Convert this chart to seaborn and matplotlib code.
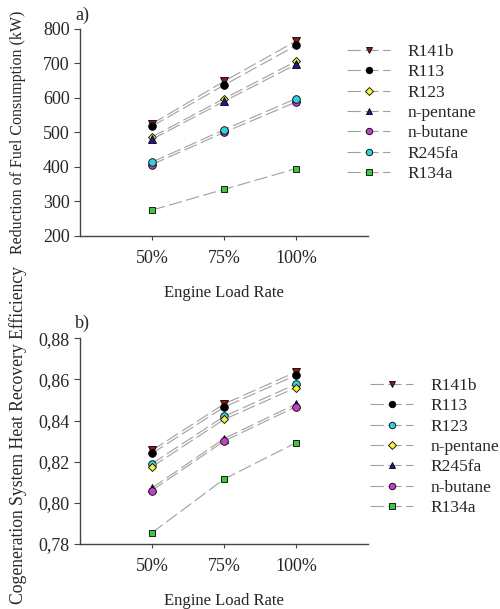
import pandas as pd
import matplotlib
matplotlib.use("Agg")
import matplotlib.pyplot as plt
import seaborn as sns

# datos
loads = ["50%", "75%", "100%"]

names_a = ["R141b", "R113", "R123", "n-pentane", "n-butane", "R245fa", "R134a"]
fuel_reduction = {
    "R141b":     [525, 648, 765],
    "R113":      [518, 637, 752],
    "R123":      [487, 598, 706],
    "n-pentane": [480, 590, 697],
    "n-butane":  [407, 500, 588],
    "R245fa":    [414, 508, 598],
    "R134a":     [275, 335, 395],
}

names_b = ["R141b", "R113", "R123", "n-pentane", "R245fa", "n-butane", "R134a"]
heat_recovery = {
    "R141b":     [0.8255, 0.8480, 0.8636],
    "R113":      [0.8240, 0.8465, 0.8620],
    "R123":      [0.8190, 0.8420, 0.8577],
    "n-pentane": [0.8175, 0.8405, 0.8560],
    "R245fa":    [0.8072, 0.8312, 0.8480],
    "n-butane":  [0.8060, 0.8300, 0.8467],
    "R134a":     [0.7855, 0.8115, 0.8292],
}

# estilos de marcador por panel
markers_a = ["v", "o", "D", "^", "o", "o", "s"]
colors_a = ["#8b1a1a", "#000000", "#f5f53c", "#1c1c8c", "#c040c8", "#30d0dc", "#3cc83c"]
markers_b = ["v", "o", "o", "D", "^", "o", "s"]
colors_b = ["#8b1a1a", "#000000", "#30d0dc", "#f5f53c", "#1c1c8c", "#c040c8", "#3cc83c"]

sns.set_style("ticks")
plt.rcParams['font.family'] = ['Liberation Serif', 'DejaVu Serif']

fig = plt.figure(figsize=(5.0, 6.09), dpi=100)
ax1 = fig.add_axes([0.16, 0.6125, 0.576, 0.340])
ax2 = fig.add_axes([0.16, 0.1067, 0.576, 0.338])


def draw_panel(ax, names, data, colors, markers):
    for i, name in enumerate(names):
        df = pd.DataFrame({"load": loads, "value": data[name]})
        ms = 4.5 if markers[i] in ("D", "s") else 5.5
        sns.lineplot(
            data=df, x="load", y="value", ax=ax,
            color="#a0a0a0", linewidth=0.8, dashes=False,
            linestyle=(0, (12, 4)),
            marker=markers[i], markersize=ms,
            markerfacecolor=colors[i], markeredgecolor="black",
            markeredgewidth=0.6, label=name, sort=False,
        )
    ax.set_xlim(-1, 3)
    ax.set_xlabel("Engine Load Rate", fontsize=12, labelpad=13)
    for side in ["left", "bottom"]:
        ax.spines[side].set_color("#444444")
        ax.spines[side].set_linewidth(1.0)
    sns.despine(ax=ax)
    ax.tick_params(axis="both", labelsize=13, color="#444444", length=4, width=0.8)
    ax.tick_params(axis="x", length=3, pad=7)
    if ax.get_legend() is not None:
        ax.get_legend().remove()


draw_panel(ax1, names_a, fuel_reduction, colors_a, markers_a)
ax1.set_ylim(200, 800)
ax1.set_yticks([200, 300, 400, 500, 600, 700, 800])
ax1.set_ylabel("Reduction of Fuel Consumption (kW)", fontsize=11.5, labelpad=12)

draw_panel(ax2, names_b, heat_recovery, colors_b, markers_b)
ax2.set_ylim(0.78, 0.88)
ticks_b = [0.78, 0.80, 0.82, 0.84, 0.86, 0.88]
ax2.set_yticks(ticks_b)
ax2.set_yticklabels([f"{v:.2f}".replace(".", ",") for v in ticks_b])
ax2.set_ylabel("Cogeneration System Heat Recovery Efficiency", fontsize=12.7)
ax2.yaxis.set_label_coords(-0.183, 0.53)

# leyendas
legend_kw = dict(loc="upper left", frameon=False, fontsize=12.5, handlelength=2.5,
                 handletextpad=1.0, labelspacing=0.24, borderpad=0,
                 borderaxespad=0, numpoints=1, markerscale=0.85)

h1, l1 = ax1.get_legend_handles_labels()
fig.legend(h1, l1, bbox_to_anchor=(0.694, 1 - 44 / 609), **legend_kw)

h2, l2 = ax2.get_legend_handles_labels()
fig.legend(h2, l2, bbox_to_anchor=(0.740, 1 - 378 / 609), **legend_kw)

fig.text(0.15, 1 - 15 / 609, "a)", fontsize=13, va="center", ha="left")
fig.text(0.15, 1 - 323 / 609, "b)", fontsize=13, va="center", ha="left")

fig.savefig("out.png", dpi=100)
